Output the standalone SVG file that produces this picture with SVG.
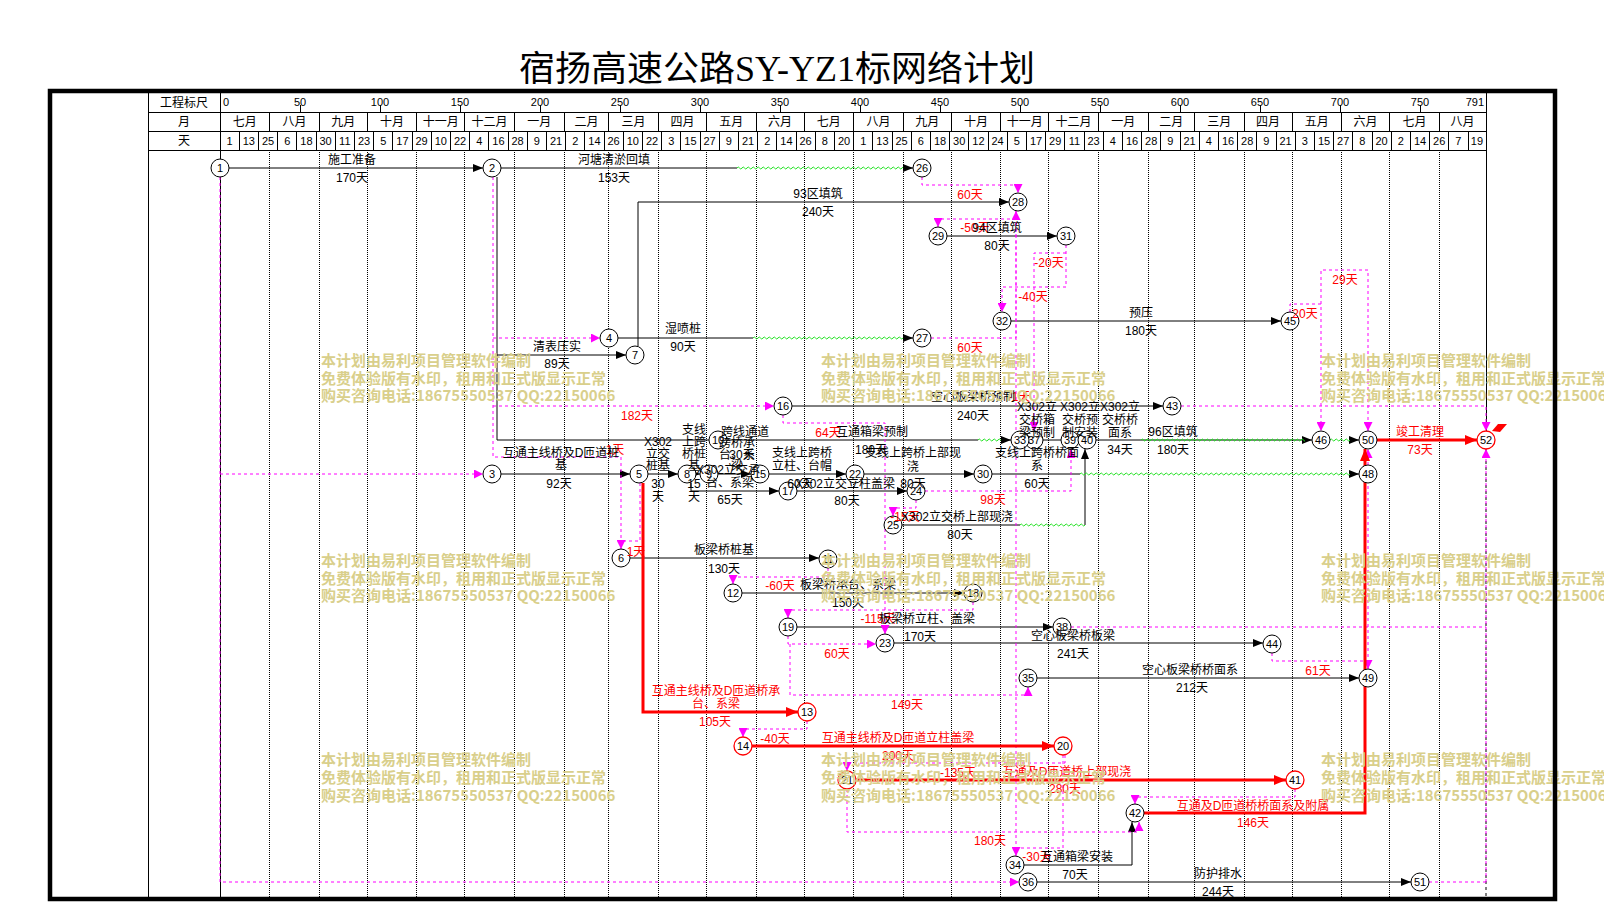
<svg xmlns="http://www.w3.org/2000/svg" width="1604" height="903" viewBox="0 0 1604 903">
<defs>
<style>
text{font-family:"Liberation Sans","Noto Sans CJK SC",sans-serif}
.h{font-size:12px;text-anchor:middle}
.d{font-size:11px;text-anchor:middle}
.g{stroke:#000;stroke-width:1;fill:none;shape-rendering:crispEdges}
.vd{stroke:#000;stroke-width:1;stroke-dasharray:1 1;fill:none;shape-rendering:crispEdges}
.ln{stroke:#000;stroke-width:1;fill:none}
.cr{stroke:#f00;stroke-width:3;fill:none}
.dm{stroke:#f0f;stroke-width:1;stroke-dasharray:3 3;fill:none}
.t{font-size:12px;text-anchor:middle;fill:#000}
.r{fill:#f00}
.nd circle{fill:#fff;stroke:#000;stroke-width:1}
.nd.c circle{stroke:#f00;stroke-width:1.3}
.nd text{font-size:11px;text-anchor:middle;fill:#000}
.wm text{font-family:"Noto Sans CJK SC",sans-serif;font-weight:bold;font-size:15px;fill:#d9cf8b}
.wv{fill:url(#wave)}
</style>
<marker id="ab" markerUnits="userSpaceOnUse" markerWidth="10" markerHeight="8" refX="10" refY="4" orient="auto"><path d="M0,0L10,4L0,8z" fill="#000"/></marker>
<marker id="ar" markerUnits="userSpaceOnUse" markerWidth="12" markerHeight="10" refX="12" refY="5" orient="auto"><path d="M0,0L12,5L0,10z" fill="#f00"/></marker>
<marker id="am" markerUnits="userSpaceOnUse" markerWidth="9" markerHeight="9" refX="9" refY="4.5" orient="auto"><path d="M0,0L9,4.5L0,9z" fill="#f0f"/></marker>
<pattern id="wave" width="5" height="6" patternUnits="userSpaceOnUse"><path d="M0 3Q1.25 1 2.5 3T5 3" fill="none" stroke="#1ee01e" stroke-width="1"/></pattern>
</defs>
<rect width="1604" height="903" fill="#fff"/>
<text x="777" y="81" font-size="35" text-anchor="middle" textLength="516" lengthAdjust="spacingAndGlyphs" style="font-family:'Liberation Serif','Noto Sans CJK SC',serif">宿扬高速公路SY-YZ1标网络计划</text>

<g id="header">
<path class="g" d="M148 112H1486M148 131H1486M148 150H1486M148 91V899M220 91V150M1486 91V150"/>
<path class="g" d="M269.6 112V131M319.2 112V131M367.2 112V131M416.8 112V131M464.8 112V131M514.4 112V131M564 112V131M608.8 112V131M658.4 112V131M706.4 112V131M756 112V131M804 112V131M853.6 112V131M903.2 112V131M951.2 112V131M1000.8 112V131M1048.8 112V131M1098.4 112V131M1148 112V131M1194.4 112V131M1244 112V131M1292 112V131M1341.6 112V131M1389.6 112V131M1439.2 112V131"/>
<path class="g" d="M239.2 131V150M258.4 131V150M277.6 131V150M296.8 131V150M316 131V150M335.2 131V150M354.4 131V150M373.6 131V150M392.8 131V150M412 131V150M431.2 131V150M450.4 131V150M469.6 131V150M488.8 131V150M508 131V150M527.2 131V150M546.4 131V150M565.6 131V150M584.8 131V150M604 131V150M623.2 131V150M642.4 131V150M661.6 131V150M680.8 131V150M700 131V150M719.2 131V150M738.4 131V150M757.6 131V150M776.8 131V150M796 131V150M815.2 131V150M834.4 131V150M853.6 131V150M872.8 131V150M892 131V150M911.2 131V150M930.4 131V150M949.6 131V150M968.8 131V150M988 131V150M1007.2 131V150M1026.4 131V150M1045.6 131V150M1064.8 131V150M1084 131V150M1103.2 131V150M1122.4 131V150M1141.6 131V150M1160.8 131V150M1180 131V150M1199.2 131V150M1218.4 131V150M1237.6 131V150M1256.8 131V150M1276 131V150M1295.2 131V150M1314.4 131V150M1333.6 131V150M1352.8 131V150M1372 131V150M1391.2 131V150M1410.4 131V150M1429.6 131V150M1448.8 131V150M1468 131V150"/>
<path class="g" d="M300 105V112M380 105V112M460 105V112M540 105V112M620 105V112M700 105V112M780 105V112M860 105V112M940 105V112M1020 105V112M1100 105V112M1180 105V112M1260 105V112M1340 105V112M1420 105V112"/>
<text class="h" x="184" y="106.5">工程标尺</text>
<text class="h" x="184" y="126">月</text>
<text class="h" x="184" y="145">天</text>
<g class="d">
<text x="223" y="105.5" text-anchor="start">0</text>
<text x="300" y="105.5">50</text><text x="380" y="105.5">100</text><text x="460" y="105.5">150</text><text x="540" y="105.5">200</text><text x="620" y="105.5">250</text><text x="700" y="105.5">300</text><text x="780" y="105.5">350</text><text x="860" y="105.5">400</text><text x="940" y="105.5">450</text><text x="1020" y="105.5">500</text><text x="1100" y="105.5">550</text><text x="1180" y="105.5">600</text><text x="1260" y="105.5">650</text><text x="1340" y="105.5">700</text><text x="1420" y="105.5">750</text>
<text x="1484" y="105.5" text-anchor="end">791</text>
</g>
<g class="h">
<text x="244.8" y="126">七月</text><text x="294.4" y="126">八月</text><text x="343.2" y="126">九月</text><text x="392" y="126">十月</text><text x="440.8" y="126">十一月</text><text x="489.6" y="126">十二月</text><text x="539.2" y="126">一月</text><text x="586.4" y="126">二月</text><text x="633.6" y="126">三月</text><text x="682.4" y="126">四月</text><text x="731.2" y="126">五月</text><text x="780" y="126">六月</text><text x="828.8" y="126">七月</text><text x="878.4" y="126">八月</text><text x="927.2" y="126">九月</text><text x="976" y="126">十月</text><text x="1024.8" y="126">十一月</text><text x="1073.6" y="126">十二月</text><text x="1123.2" y="126">一月</text><text x="1171.2" y="126">二月</text><text x="1219.2" y="126">三月</text><text x="1268" y="126">四月</text><text x="1316.8" y="126">五月</text><text x="1365.6" y="126">六月</text><text x="1414.4" y="126">七月</text><text x="1462.4" y="126">八月</text>
</g>
<g class="d">
<text x="229.6" y="144.5">1</text><text x="248.8" y="144.5">13</text><text x="268" y="144.5">25</text><text x="287.2" y="144.5">6</text><text x="306.4" y="144.5">18</text><text x="325.6" y="144.5">30</text><text x="344.8" y="144.5">11</text><text x="364" y="144.5">23</text><text x="383.2" y="144.5">5</text><text x="402.4" y="144.5">17</text><text x="421.6" y="144.5">29</text><text x="440.8" y="144.5">10</text><text x="460" y="144.5">22</text><text x="479.2" y="144.5">4</text><text x="498.4" y="144.5">16</text><text x="517.6" y="144.5">28</text><text x="536.8" y="144.5">9</text><text x="556" y="144.5">21</text><text x="575.2" y="144.5">2</text><text x="594.4" y="144.5">14</text><text x="613.6" y="144.5">26</text><text x="632.8" y="144.5">10</text><text x="652" y="144.5">22</text><text x="671.2" y="144.5">3</text><text x="690.4" y="144.5">15</text><text x="709.6" y="144.5">27</text><text x="728.8" y="144.5">9</text><text x="748" y="144.5">21</text><text x="767.2" y="144.5">2</text><text x="786.4" y="144.5">14</text><text x="805.6" y="144.5">26</text><text x="824.8" y="144.5">8</text><text x="844" y="144.5">20</text><text x="863.2" y="144.5">1</text><text x="882.4" y="144.5">13</text><text x="901.6" y="144.5">25</text><text x="920.8" y="144.5">6</text><text x="940" y="144.5">18</text><text x="959.2" y="144.5">30</text><text x="978.4" y="144.5">12</text><text x="997.6" y="144.5">24</text><text x="1016.8" y="144.5">5</text><text x="1036" y="144.5">17</text><text x="1055.2" y="144.5">29</text><text x="1074.4" y="144.5">11</text><text x="1093.6" y="144.5">23</text><text x="1112.8" y="144.5">4</text><text x="1132" y="144.5">16</text><text x="1151.2" y="144.5">28</text><text x="1170.4" y="144.5">9</text><text x="1189.6" y="144.5">21</text><text x="1208.8" y="144.5">4</text><text x="1228" y="144.5">16</text><text x="1247.2" y="144.5">28</text><text x="1266.4" y="144.5">9</text><text x="1285.6" y="144.5">21</text><text x="1304.8" y="144.5">3</text><text x="1324" y="144.5">15</text><text x="1343.2" y="144.5">27</text><text x="1362.4" y="144.5">8</text><text x="1381.6" y="144.5">20</text><text x="1400.8" y="144.5">2</text><text x="1420" y="144.5">14</text><text x="1439.2" y="144.5">26</text><text x="1458.4" y="144.5">7</text><text x="1476.9" y="144.5">19</text>
</g>
</g>

<g id="grid">
<path class="vd" d="M269.6 150V897M319.2 150V897M367.2 150V897M416.8 150V897M464.8 150V897M514.4 150V897M564 150V897M608.8 150V897M658.4 150V897M706.4 150V897M756 150V897M804 150V897M853.6 150V897M903.2 150V897M951.2 150V897M1000.8 150V897M1048.8 150V897M1098.4 150V897M1148 150V897M1194.4 150V897M1244 150V897M1292 150V897M1341.6 150V897M1389.6 150V897M1439.2 150V897"/>
<path class="g" d="M220 150V897M1486 150V449"/>
<path class="ln" d="M1486 449V897" stroke-dasharray="3 3"/>
</g>

<g id="connectors">
<g class="ln">
<path d="M229 168H483" marker-end="url(#ab)"/>
<path d="M501 168H737"/><path d="M903 168H913" marker-end="url(#ab)"/>
<path d="M638 346V202H1009" marker-end="url(#ab)"/>
<path d="M618 338H753"/><path d="M903 338H913" marker-end="url(#ab)"/>
<path d="M497 177V440H978"/>
<path d="M497 355H626" marker-end="url(#ab)"/>
<path d="M1001 440H1011" marker-end="url(#ab)"/>
<path d="M947 236H1057" marker-end="url(#ab)"/>
<path d="M1011 321H1281" marker-end="url(#ab)"/>
<path d="M792 406H1163" marker-end="url(#ab)"/>
<path d="M1029 440H1312" marker-end="url(#ab)"/>
<path d="M1349 440H1359" marker-end="url(#ab)"/>
<path d="M501 474H630" marker-end="url(#ab)"/>
<path d="M648 474H678" marker-end="url(#ab)"/>
<path d="M694 474H700" marker-end="url(#ab)"/>
<path d="M718 474H751" marker-end="url(#ab)"/>
<path d="M691 483V491H779" marker-end="url(#ab)"/>
<path d="M769 474H846" marker-end="url(#ab)"/>
<path d="M797 491H907" marker-end="url(#ab)"/>
<path d="M864 474H974" marker-end="url(#ab)"/>
<path d="M992 474H1080"/><path d="M1349 474H1359" marker-end="url(#ab)"/>
<path d="M902 525H1020"/><path d="M1085 525V449" marker-end="url(#ab)"/>
<path d="M630 558H819" marker-end="url(#ab)"/>
<path d="M742 593H964" marker-end="url(#ab)"/>
<path d="M797 627H1053" marker-end="url(#ab)"/>
<path d="M894 643H1263" marker-end="url(#ab)"/>
<path d="M1037 678H1359" marker-end="url(#ab)"/>
<path d="M1024 865H1132V822" marker-end="url(#ab)"/>
<path d="M1037 882H1411" marker-end="url(#ab)"/>
</g>
<g id="waves">
<rect class="wv" transform="translate(737,165)" width="166" height="6"/>
<rect class="wv" transform="translate(753,335)" width="150" height="6"/>
<rect class="wv" transform="translate(978,437)" width="23" height="6"/>
<rect class="wv" transform="translate(1141,437)" width="164" height="6"/>
<rect class="wv" transform="translate(1330,437)" width="20" height="6"/>
<rect class="wv" transform="translate(1080,471)" width="270" height="6"/>
<rect class="wv" transform="translate(1020,522)" width="65" height="6"/>
</g>
<g class="dm">
<path d="M220 177V882H1019" marker-end="url(#am)"/>
<path d="M220 474H483" marker-end="url(#am)"/>
<path d="M493 177V457H621V549" marker-end="url(#am)"/>
<path d="M493 338H600" marker-end="url(#am)"/>
<path d="M493 406H774" marker-end="url(#am)"/>
<path d="M640 483V541H621"/>
<path d="M922 177V185H1018V193" marker-end="url(#am)"/>
<path d="M931 338H1016V211" marker-end="url(#am)"/>
<path d="M1016 219H938V227" marker-end="url(#am)"/>
<path d="M1016 211V856" marker-end="url(#am)"/>
<path d="M1063 755V848H1016"/>
<path d="M1066 245V287H1002V312" marker-end="url(#am)"/>
<path d="M1066 253H1034V431" marker-end="url(#am)"/>
<path d="M1290 312V304H1321V431" marker-end="url(#am)"/>
<path d="M1321 304V270H1368V431" marker-end="url(#am)"/>
<path d="M1181 406H1486V431" marker-end="url(#am)"/>
<path d="M1071 627H1486"/>
<path d="M1486 882V449" marker-end="url(#am)"/>
<path d="M783 415V423H885V634" marker-end="url(#am)"/>
<path d="M916 500V508H893V516" marker-end="url(#am)"/>
<path d="M925 491H1071V449" marker-end="url(#am)"/>
<path d="M828 568V577H733V584" marker-end="url(#am)"/>
<path d="M973 602V610H788V618" marker-end="url(#am)"/>
<path d="M788 636V644H876" marker-end="url(#am)"/>
<path d="M790 644V695H1028V687" marker-end="url(#am)"/>
<path d="M807 721V729H743V737" marker-end="url(#am)"/>
<path d="M1065 755V763H847V771" marker-end="url(#am)"/>
<path d="M1295 789V797H1135V804" marker-end="url(#am)"/>
<path d="M847 789V832H1139V822" marker-end="url(#am)"/>
<path d="M1272 653V661H1368V669" marker-end="url(#am)"/>
<path d="M1368 669V449" marker-end="url(#am)"/>
<path d="M1429 882H1486"/>
</g>
<g class="cr">
<path d="M643 483V712H798" marker-end="url(#ar)"/>
<path d="M752 746H1054" marker-end="url(#ar)"/>
<path d="M856 780H1286" marker-end="url(#ar)"/>
<path d="M1144 813H1365V449" marker-end="url(#ar)"/>
<path d="M1377 440H1477" marker-end="url(#ar)"/>
</g>
</g>

<g id="nodes">
<g id="n1" class="nd"><circle cx="220" cy="168" r="9"/><text x="220" y="172">1</text></g>
<g id="n2" class="nd"><circle cx="492" cy="168" r="9"/><text x="492" y="172">2</text></g>
<g id="n26" class="nd"><circle cx="922" cy="168" r="9"/><text x="922" y="172">26</text></g>
<g id="n28" class="nd"><circle cx="1018" cy="202" r="9"/><text x="1018" y="206">28</text></g>
<g id="n29" class="nd"><circle cx="938" cy="236" r="9"/><text x="938" y="240">29</text></g>
<g id="n31" class="nd"><circle cx="1066" cy="236" r="9"/><text x="1066" y="240">31</text></g>
<g id="n32" class="nd"><circle cx="1002" cy="321" r="9"/><text x="1002" y="325">32</text></g>
<g id="n45" class="nd"><circle cx="1290" cy="321" r="9"/><text x="1290" y="325">45</text></g>
<g id="n4" class="nd"><circle cx="609" cy="338" r="9"/><text x="609" y="342">4</text></g>
<g id="n27" class="nd"><circle cx="922" cy="338" r="9"/><text x="922" y="342">27</text></g>
<g id="n7" class="nd"><circle cx="635" cy="355" r="9"/><text x="635" y="359">7</text></g>
<g id="n16" class="nd"><circle cx="783" cy="406" r="9"/><text x="783" y="410">16</text></g>
<g id="n43" class="nd"><circle cx="1172" cy="406" r="9"/><text x="1172" y="410">43</text></g>
<g id="n10" class="nd"><circle cx="718" cy="440" r="9"/><text x="718" y="444">10</text></g>
<g id="n37" class="nd"><circle cx="1034" cy="440" r="9"/><text x="1034" y="444">37</text></g>
<g id="n33" class="nd"><circle cx="1020" cy="440" r="9"/><text x="1020" y="444">33</text></g>
<g id="n39" class="nd"><circle cx="1070" cy="440" r="9"/><text x="1070" y="444">39</text></g>
<g id="n40" class="nd"><circle cx="1087" cy="440" r="9"/><text x="1087" y="444">40</text></g>
<g id="n46" class="nd"><circle cx="1321" cy="440" r="9"/><text x="1321" y="444">46</text></g>
<g id="n50" class="nd"><circle cx="1368" cy="440" r="9"/><text x="1368" y="444">50</text></g>
<g id="n52" class="nd c"><circle cx="1486" cy="440" r="9"/><text x="1486" y="444">52</text><path d="M1492 431L1498 424H1507L1500 432Z" fill="#f00"/></g>
<g id="n3" class="nd"><circle cx="492" cy="474" r="9"/><text x="492" y="478">3</text></g>
<g id="n5" class="nd"><circle cx="639" cy="474" r="9"/><text x="639" y="478">5</text></g>
<g id="n8" class="nd"><circle cx="687" cy="474" r="9"/><text x="687" y="478">8</text></g>
<g id="n9" class="nd"><circle cx="709" cy="474" r="9"/><text x="709" y="478">9</text></g>
<g id="n15" class="nd"><circle cx="760" cy="474" r="9"/><text x="760" y="478">15</text></g>
<g id="n22" class="nd"><circle cx="855" cy="474" r="9"/><text x="855" y="478">22</text></g>
<g id="n30" class="nd"><circle cx="983" cy="474" r="9"/><text x="983" y="478">30</text></g>
<g id="n48" class="nd"><circle cx="1368" cy="474" r="9"/><text x="1368" y="478">48</text></g>
<g id="n17" class="nd"><circle cx="788" cy="491" r="9"/><text x="788" y="495">17</text></g>
<g id="n24" class="nd"><circle cx="916" cy="491" r="9"/><text x="916" y="495">24</text></g>
<g id="n25" class="nd"><circle cx="893" cy="525" r="9"/><text x="893" y="529">25</text></g>
<g id="n6" class="nd"><circle cx="621" cy="558" r="9"/><text x="621" y="562">6</text></g>
<g id="n11" class="nd"><circle cx="828" cy="559" r="9"/><text x="828" y="563">11</text></g>
<g id="n12" class="nd"><circle cx="733" cy="593" r="9"/><text x="733" y="597">12</text></g>
<g id="n18" class="nd"><circle cx="973" cy="593" r="9"/><text x="973" y="597">18</text></g>
<g id="n19" class="nd"><circle cx="788" cy="627" r="9"/><text x="788" y="631">19</text></g>
<g id="n38" class="nd"><circle cx="1062" cy="627" r="9"/><text x="1062" y="631">38</text></g>
<g id="n23" class="nd"><circle cx="885" cy="643" r="9"/><text x="885" y="647">23</text></g>
<g id="n44" class="nd"><circle cx="1272" cy="644" r="9"/><text x="1272" y="648">44</text></g>
<g id="n35" class="nd"><circle cx="1028" cy="678" r="9"/><text x="1028" y="682">35</text></g>
<g id="n49" class="nd"><circle cx="1368" cy="678" r="9"/><text x="1368" y="682">49</text></g>
<g id="n13" class="nd c"><circle cx="807" cy="712" r="9"/><text x="807" y="716">13</text></g>
<g id="n14" class="nd c"><circle cx="743" cy="746" r="9"/><text x="743" y="750">14</text></g>
<g id="n20" class="nd c"><circle cx="1063" cy="746" r="9"/><text x="1063" y="750">20</text></g>
<g id="n21" class="nd c"><circle cx="847" cy="780" r="9"/><text x="847" y="784">21</text></g>
<g id="n41" class="nd c"><circle cx="1295" cy="780" r="9"/><text x="1295" y="784">41</text></g>
<g id="n42" class="nd"><circle cx="1135" cy="813" r="9"/><text x="1135" y="817">42</text></g>
<g id="n34" class="nd"><circle cx="1015" cy="865" r="9"/><text x="1015" y="869">34</text></g>
<g id="n36" class="nd"><circle cx="1028" cy="882" r="9"/><text x="1028" y="886">36</text></g>
<g id="n51" class="nd"><circle cx="1420" cy="882" r="9"/><text x="1420" y="886">51</text></g>
</g>

<g id="labels-red" class="t r">
<text x="970" y="199">60天</text>
<text x="975" y="232">-50天</text>
<text x="1049" y="267">-20天</text>
<text x="1033" y="301">-40天</text>
<text x="1305" y="318">20天</text>
<text x="1345" y="284">29天</text>
<text x="970" y="352">60天</text>
<text x="637" y="420">182天</text>
<text x="1019" y="401">-1天</text>
<text x="828" y="437">64天</text>
<text x="613" y="454">-1天</text>
<text x="636" y="556">1天</text>
<text x="1420" y="436">竣工清理</text>
<text x="1420" y="454">73天</text>
<text x="993" y="504">98天</text>
<text x="905" y="521">-15天</text>
<text x="780" y="590">-60天</text>
<text x="878" y="623">-115天</text>
<text x="837" y="658">60天</text>
<text x="1318" y="675">61天</text>
<text x="907" y="709">149天</text>
<text x="716" y="695">互通主线桥及D匝道桥承</text>
<text x="716" y="708">台、系梁</text>
<text x="715" y="726">105天</text>
<text x="775" y="743">-40天</text>
<text x="898" y="742">互通主线桥及D匝道立柱盖梁</text>
<text x="898" y="760">200天</text>
<text x="958" y="777">-135天</text>
<text x="1067" y="776">互通及D匝道桥上部现浇</text>
<text x="1065" y="793">280天</text>
<text x="990" y="845">180天</text>
<text x="1037" y="861">-30天</text>
<text x="1253" y="810">互通及D匝道桥桥面系及附属</text>
<text x="1253" y="827">146天</text>
</g>

<g id="labels" class="t">
<text x="352" y="164">施工准备</text><text x="352" y="182">170天</text>
<text x="614" y="164">河塘清淤回填</text><text x="614" y="182">153天</text>
<text x="818" y="198">93区填筑</text><text x="818" y="216">240天</text>
<text x="997" y="232">94区填筑</text><text x="997" y="250">80天</text>
<text x="1141" y="317">预压</text><text x="1141" y="335">180天</text>
<text x="683" y="333">湿喷桩</text><text x="683" y="351">90天</text>
<text x="557" y="351">清表压实</text><text x="557" y="368">89天</text>
<text x="973" y="401">空心板梁桥预制</text><text x="973" y="420">240天</text>
<text x="872" y="436">互通箱梁预制</text><text x="871" y="454">180天</text>
<text x="745" y="436">跨线通道</text>
<text x="1037" y="411">X302立</text><text x="1037" y="424">交桥箱</text><text x="1037" y="437">梁预制</text>
<text x="1080" y="411">X302立</text><text x="1080" y="424">交桥预</text><text x="1080" y="437">制安装</text>
<text x="1120" y="411">X302立</text><text x="1120" y="424">交桥桥</text><text x="1120" y="437">面系</text>
<text x="1120" y="454">34天</text>
<text x="1173" y="436">96区填筑</text><text x="1173" y="454">180天</text>
<text x="561" y="457">互通主线桥及D匝道桩</text><text x="561" y="469">基</text>
<text x="559" y="488">92天</text>
<text x="658" y="446">X302</text><text x="658" y="458">立交</text><text x="658" y="470">桩基</text>
<text x="658" y="488">30</text><text x="658" y="501">天</text>
<text x="694" y="434">支线</text><text x="694" y="446">上跨</text><text x="694" y="458">桥桩</text><text x="694" y="470">基</text>
<text x="694" y="488">15</text><text x="694" y="501">天</text>
<text x="737" y="447">跨桥承</text><text x="737" y="459">台、系</text><text x="742" y="459">30天</text><text x="737" y="470">梁</text>
<text x="728" y="474">X302立交承</text><text x="730" y="487">台、系梁</text><text x="730" y="504">65天</text>
<text x="802" y="457">支线上跨桥</text><text x="802" y="470">立柱、台帽</text><text x="800" y="488">60天</text>
<text x="845" y="488">X302立交立柱盖梁</text><text x="847" y="505">80天</text>
<text x="913" y="457">支线上跨桥上部现</text><text x="913" y="471">浇</text><text x="913" y="488">80天</text>
<text x="1037" y="457">支线上跨桥桥面</text><text x="1037" y="470">系</text><text x="1037" y="488">60天</text>
<text x="957" y="521">X302立交桥上部现浇</text><text x="960" y="539">80天</text>
<text x="724" y="554">板梁桥桩基</text><text x="724" y="573">130天</text>
<text x="848" y="589">板梁桥承台、系梁</text><text x="848" y="607">150天</text>
<text x="927" y="623">板梁桥立柱、盖梁</text><text x="920" y="641">170天</text>
<text x="1073" y="640">空心板梁桥板梁</text><text x="1073" y="658">241天</text>
<text x="1190" y="674">空心板梁桥桥面系</text><text x="1192" y="692">212天</text>
<text x="1077" y="861">互通箱梁安装</text><text x="1075" y="879">70天</text>
<text x="1218" y="878">防护排水</text><text x="1218" y="896">244天</text>
</g>

<g id="watermark" class="wm">
<text x="321" y="366">本计划由易利项目管理软件编制</text><text x="321" y="383.5">免费体验版有水印，租用和正式版显示正常</text><text x="321" y="401">购买咨询电话:18675550537 QQ:22150066</text>
<text x="821" y="366">本计划由易利项目管理软件编制</text><text x="821" y="383.5">免费体验版有水印，租用和正式版显示正常</text><text x="821" y="401">购买咨询电话:18675550537 QQ:22150066</text>
<text x="1321" y="366">本计划由易利项目管理软件编制</text><text x="1321" y="383.5">免费体验版有水印，租用和正式版显示正常</text><text x="1321" y="401">购买咨询电话:18675550537 QQ:22150066</text>
<text x="321" y="566">本计划由易利项目管理软件编制</text><text x="321" y="584">免费体验版有水印，租用和正式版显示正常</text><text x="321" y="601">购买咨询电话:18675550537 QQ:22150066</text>
<text x="821" y="566">本计划由易利项目管理软件编制</text><text x="821" y="584">免费体验版有水印，租用和正式版显示正常</text><text x="821" y="601">购买咨询电话:18675550537 QQ:22150066</text>
<text x="1321" y="566">本计划由易利项目管理软件编制</text><text x="1321" y="584">免费体验版有水印，租用和正式版显示正常</text><text x="1321" y="601">购买咨询电话:18675550537 QQ:22150066</text>
<text x="321" y="765">本计划由易利项目管理软件编制</text><text x="321" y="783">免费体验版有水印，租用和正式版显示正常</text><text x="321" y="801">购买咨询电话:18675550537 QQ:22150066</text>
<text x="821" y="765">本计划由易利项目管理软件编制</text><text x="821" y="783">免费体验版有水印，租用和正式版显示正常</text><text x="821" y="801">购买咨询电话:18675550537 QQ:22150066</text>
<text x="1321" y="765">本计划由易利项目管理软件编制</text><text x="1321" y="783">免费体验版有水印，租用和正式版显示正常</text><text x="1321" y="801">购买咨询电话:18675550537 QQ:22150066</text>
</g>

<rect id="frame" x="50" y="91" width="1505" height="808" fill="none" stroke="#000" stroke-width="4.5"/>
</svg>
